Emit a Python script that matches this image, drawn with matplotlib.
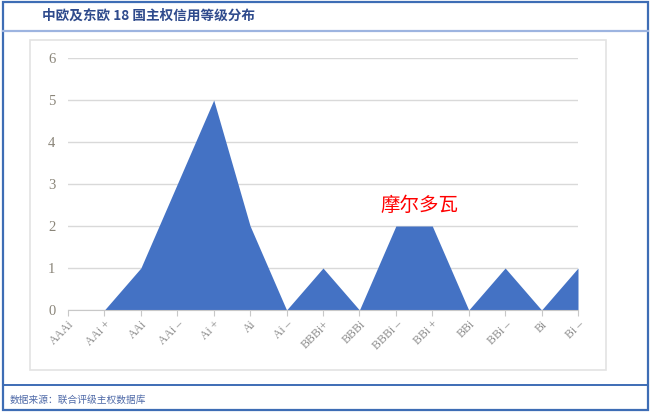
import matplotlib
matplotlib.use('Agg')
import matplotlib.pyplot as plt
from matplotlib.patches import Rectangle

# data
ratings = ['AAAi', 'AAi +', 'AAi', 'AAi –', 'Ai +', 'Ai', 'Ai –', 'BBBi+',
           'BBBi', 'BBBi –', 'BBi +', 'BBi', 'BBi –', 'Bi', 'Bi –']
counts = [0, 0, 1, 3, 5, 2, 0, 1, 0, 2, 2, 0, 1, 0, 1]
y_ticks = [0, 1, 2, 3, 4, 5, 6]

title = '中欧及东欧 18 国主权信用等级分布'
source = '数据来源：联合评级主权数据库'
note = '摩尔多瓦'

cjk = ['Noto Sans CJK SC', 'DejaVu Sans']
serif = ['Liberation Serif', 'DejaVu Serif']

W, H = 651, 413
fig = plt.figure(figsize=(W / 100, H / 100), dpi=100)

# frame drawn in pixel coords
bg = fig.add_axes([0, 0, 1, 1], zorder=0)
bg.set_xlim(0, W)
bg.set_ylim(H, 0)
bg.axis('off')
bg.add_patch(Rectangle((2.5, 1.5), 645.5, 408.5, fill=False,
                       edgecolor='#3E6DB5', lw=1.6))
bg.plot([3, 648], [31, 31], color='#9DB4E0', lw=1.6)
bg.plot([3, 648], [385, 385], color='#3E6DB5', lw=1.4)
bg.add_patch(Rectangle((30, 40), 576, 330, fill=False,
                       edgecolor='#e3e3e3', lw=1.2))
bg.text(42, 16, title, family=cjk, fontsize=9.8, fontweight='bold',
        color='#2E4A8C', ha='left', va='center')
bg.text(10, 400, source, family=cjk, fontsize=7, color='#4F6AA8',
        ha='left', va='center')

# chart
ax = fig.add_axes([68 / W, 1 - 310 / H, 510 / W, 252 / H], zorder=1)
ax.patch.set_alpha(0)
x = list(range(len(ratings)))
ax.fill_between(x, counts, 0, color='#4472C4', lw=0, zorder=2)
ax.set_xlim(0, len(ratings) - 1)
ax.set_ylim(0, 6)
ax.set_yticks(y_ticks)
ax.grid(axis='y', color='#d9d9d9', lw=1, zorder=0)
ax.set_axisbelow(True)
for s in ['top', 'right', 'left']:
    ax.spines[s].set_visible(False)
ax.spines['bottom'].set_color('#c8c8c8')
ax.tick_params(axis='y', length=0, pad=9, labelcolor='#8a8579', labelsize=10.5)
ax.tick_params(axis='x', length=4, color='#c8c8c8', labelcolor='#8c8c8c',
               labelsize=8.5, pad=2)
ax.set_xticks(x)
ax.set_xticklabels(ratings, rotation=45, ha='right', rotation_mode='anchor')
for lbl in ax.get_xticklabels() + ax.get_yticklabels():
    lbl.set_family(serif)

ax.text(9.66, 2.5, note, family=cjk, fontsize=14, color='red',
        ha='center', va='center')

fig.savefig('out.png', dpi=100)
